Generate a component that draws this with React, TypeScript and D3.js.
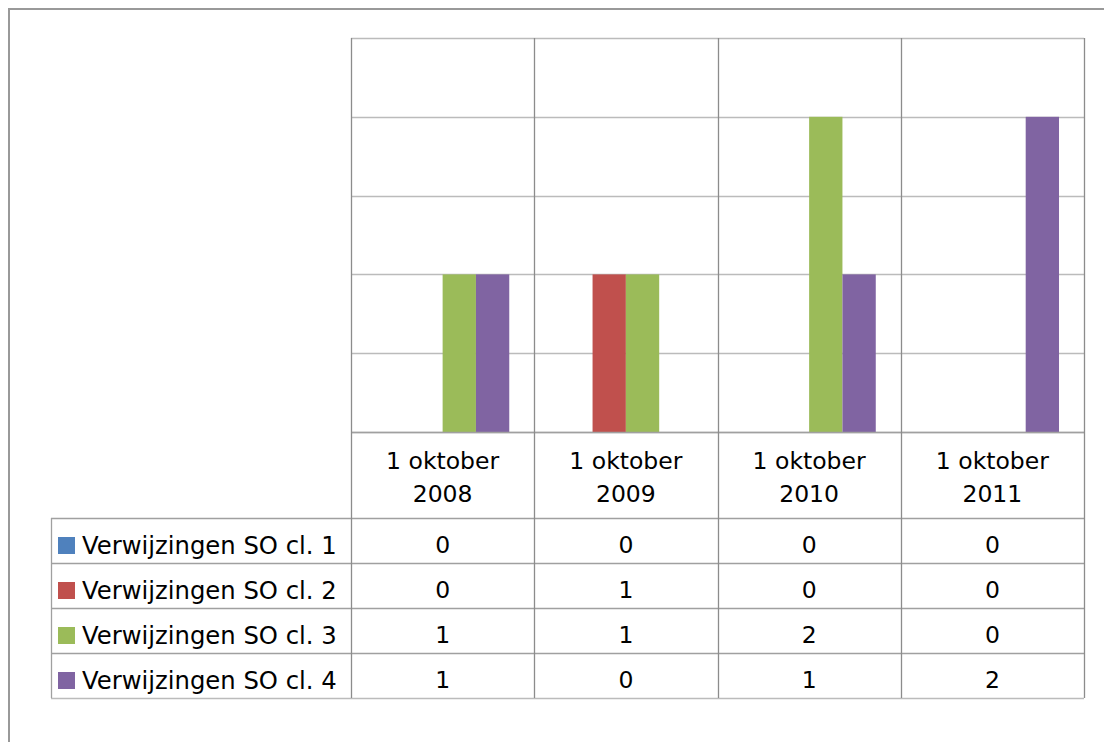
import React from "react";
import * as d3 from "d3";

const categories = ["1 oktober 2008", "1 oktober 2009", "1 oktober 2010", "1 oktober 2011"];
const seriesNames = ["Verwijzingen SO cl. 1", "Verwijzingen SO cl. 2", "Verwijzingen SO cl. 3", "Verwijzingen SO cl. 4"];
const cl1 = [0, 0, 0, 0];
const cl2 = [0, 1, 0, 0];
const cl3 = [1, 1, 2, 0];
const cl4 = [1, 0, 1, 2];
const seriesValues = [cl1, cl2, cl3, cl4];
const colors = ["#4F81BD", "#C0504D", "#9BBB59", "#8064A2"];
const yTicks = [0, 0.5, 1, 1.5, 2, 2.5];

const W = 1104, H = 742;
const plotL = 351, plotR = 1084, plotT = 38, plotB = 432;
const tableL = 51, headerB = 518, rowH = 45;
const font = "'DejaVu Sans', sans-serif";
const fs = 23.5;

export default function App() {
  const x = d3.scaleBand<string>().domain(categories).range([plotL, plotR]).paddingInner(0).paddingOuter(0);
  const bw = x.bandwidth();
  const barW = bw / 5.5;
  const sub = d3.scaleBand<number>().domain([0, 1, 2, 3]).range([0.75 * barW, 0.75 * barW + 4 * barW]);
  const y = d3.scaleLinear().domain([0, 2.5]).range([plotB, plotT]);
  const rowY = (i: number) => headerB + i * rowH;
  const tableB = rowY(seriesNames.length);

  return (
    <svg width={W} height={H} style={{ position: "absolute", left: 0, top: 0, background: "#fff" }}>
      <rect x={0} y={0} width={W} height={H} fill="#fff" />
      {/* outer chart border */}
      <path d={`M9,${H + 5} V9 H${W + 5}`} fill="none" stroke="#999" strokeWidth={2} />
      {/* gridlines */}
      {yTicks.map((t) => (
        <line key={t} x1={plotL} x2={plotR} y1={Math.round(y(t)) + 0.5} y2={Math.round(y(t)) + 0.5} stroke="#BBBBBB" strokeWidth={1.3} />
      ))}
      {/* bars */}
      {seriesValues.map((vals, si) =>
        vals.map((v, ci) =>
          v > 0 ? (
            <rect key={`${si}-${ci}`} x={(x(categories[ci]) as number) + (sub(si) as number)} width={sub.bandwidth()}
              y={y(v)} height={y(0) - y(v)} fill={colors[si]} />
          ) : null
        )
      )}
      {/* table horizontal lines */}
      {seriesNames.map((_, i) => (
        <line key={"h" + i} x1={tableL} x2={plotR} y1={rowY(i) + 0.5} y2={rowY(i) + 0.5} stroke="#A0A0A0" strokeWidth={1.3} />
      ))}
      <line x1={tableL} x2={plotR} y1={tableB + 0.5} y2={tableB + 0.5} stroke="#BBBBBB" strokeWidth={1.5} />
      <line x1={plotL} x2={plotR} y1={plotB + 0.5} y2={plotB + 0.5} stroke="#A0A0A0" strokeWidth={1.3} />
      {/* vertical lines */}
      {[...categories.map((c) => x(c) as number), plotR].map((xx, i) => (
        <line key={"v" + i} x1={Math.round(xx) + 0.5} x2={Math.round(xx) + 0.5} y1={plotT} y2={tableB} stroke="#8C8C8C" strokeWidth={1.3} />
      ))}
      <line x1={tableL + 0.5} x2={tableL + 0.5} y1={headerB} y2={tableB} stroke="#A0A0A0" strokeWidth={1.3} />
      {/* header labels */}
      {categories.map((c) => {
        const cx = (x(c) as number) + bw / 2;
        const parts = [c.slice(0, c.lastIndexOf(" ")), c.slice(c.lastIndexOf(" ") + 1)];
        return (
          <text key={"hd" + c} x={cx} textAnchor="middle" fontFamily={font} fontSize={fs} fill="#000">
            <tspan x={cx} y={469}>{parts[0]}</tspan>
            <tspan x={cx} y={502}>{parts[1]}</tspan>
          </text>
        );
      })}
      {/* rows */}
      {seriesNames.map((name, si) => (
        <g key={"r" + si}>
          <rect x={58} y={rowY(si) + 19} width={17} height={17} fill={colors[si]} />
          <text x={82} y={rowY(si) + 36} fontFamily={font} fontSize={24.3} fill="#000">{name}</text>
          {seriesValues[si].map((v, ci) => (
            <text key={ci} x={(x(categories[ci]) as number) + bw / 2} y={rowY(si) + 35} textAnchor="middle" fontFamily={font} fontSize={fs} fill="#000">{v}</text>
          ))}
        </g>
      ))}
    </svg>
  );
}
